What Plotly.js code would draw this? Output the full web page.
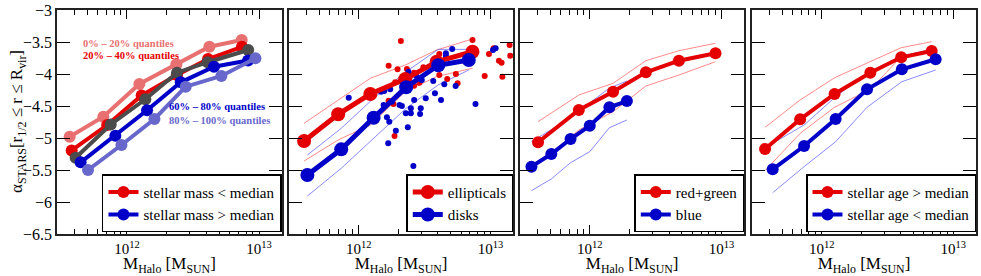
<!DOCTYPE html>
<html><head><meta charset="utf-8">
<script src="https://cdn.plot.ly/plotly-3.0.1.min.js"></script>
<style>html,body{margin:0;padding:0;background:#fff}#chart{width:981px;height:276px}</style>
</head><body><div id="chart"></div>
<script>
// ---------- DATA (x values are log10 of halo mass in M_sun) ----------
// Panel 1: stellar-mass quantiles
const p1_q0_logM  = [11.566, 11.821, 12.094, 12.374, 12.624, 12.869];
const p1_q0_alpha = [-4.98, -4.667, -4.156, -3.848, -3.573, -3.469];
const p1_q1_logM  = [11.581, 11.850, 12.111, 12.379, 12.614, 12.871];
const p1_q1_alpha = [-5.195, -4.797, -4.336, -4.016, -3.766, -3.575];
const p1_q2_logM  = [11.611, 11.877, 12.139, 12.379, 12.611, 12.918];
const p1_q2_alpha = [-5.308, -4.789, -4.395, -3.98, -3.816, -3.625];
const p1_q3_logM  = [11.649, 11.912, 12.152, 12.407, 12.659, 12.917];
const p1_q3_alpha = [-5.38, -4.964, -4.567, -4.13, -3.886, -3.79];
const p1_q4_logM  = [11.705, 11.958, 12.208, 12.445, 12.715, 12.973];
const p1_q4_alpha = [-5.5, -5.109, -4.703, -4.198, -4.031, -3.755];

// Panel 2: ellipticals vs disks
const p2_ell_logM   = [11.585, 11.844, 12.088, 12.353, 12.592, 12.864];
const p2_ell_alpha  = [-5.047, -4.63, -4.3125, -4.08, -3.808, -3.652];
const p2_ell_hi     = [-4.77, -4.406, -4.067, -3.86, -3.625, -3.453];
const p2_ell_lo     = [-5.36, -5.03, -4.797, -4.277, -4.04, -3.91];
const p2_disk_logM  = [11.610, 11.867, 12.113, 12.360, 12.604, 12.836];
const p2_disk_alpha = [-5.578, -5.177, -4.683, -4.208, -3.864, -3.781];
const p2_disk_hi    = [-5.266, -4.849, -4.38, -3.964, -3.615, -3.615];
const p2_disk_lo    = [-5.906, -5.474, -5.005, -4.536, -4.17, -3.9375];
const p2_ell_dots_logM  = [12.320, 12.227, 12.295, 12.366, 12.340, 12.353, 12.277, 12.421, 12.461, 12.491, 12.421, 12.612, 12.612, 12.672, 12.738, 12.751, 12.864, 12.957, 12.989, 13.025, 13.065, 13.085, 13.091, 13.146, 13.151, 12.227, 12.264, 12.272];
const p2_ell_dots_alpha = [-3.484, -3.870, -3.927, -3.922, -4.042, -4.120, -4.130, -3.980, -4.136, -3.895, -4.183, -3.6875, -4.016, -4.078, -4.0, -4.145, -3.469, -4.031, -3.6875, -3.598, -3.792, -3.823, -4.042, -3.547, -3.714, -4.417, -4.469, -4.969];
const p2_disk_dots_logM  = [11.924, 12.169, 12.194, 12.239, 12.189, 12.252, 12.310, 12.328, 12.214, 12.232, 12.282, 12.224, 12.358, 12.396, 12.396, 12.373, 12.421, 12.471, 12.466, 12.509, 12.579, 12.625, 12.650, 12.566, 12.736, 12.378, 12.385, 12.436, 12.479, 12.662, 12.662, 12.710, 12.887, 13.020, 13.040, 12.415];
const p2_disk_dots_alpha = [-4.370, -4.277, -4.266, -4.239, -4.484, -4.433, -4.484, -4.5, -4.677, -4.745, -4.886, -5.083, -4.614, -4.536, -4.614, -4.833, -4.406, -4.536, -4.625, -4.380, -4.302, -4.406, -4.161, -4.109, -4.1875, -3.964, -4.058, -4.027, -4.094, -3.677, -3.719, -3.609, -4.469, -3.625, -3.598, -5.4375];

// Panel 3: red+green vs blue
const p3_rg_logM    = [11.607, 11.917, 12.177, 12.426, 12.677, 12.955];
const p3_rg_alpha   = [-5.067, -4.5625, -4.277, -3.973, -3.792, -3.677];
const p3_rg_hi      = [-4.745, -4.328, -4.146, -3.792, -3.636, -3.52];
const p3_rg_lo      = [-5.395, -4.875, -4.589, -4.1875, -4.016, -3.808];
const p3_blue_logM  = [11.557, 11.708, 11.854, 12.0, 12.149, 12.282];
const p3_blue_alpha = [-5.448, -5.25, -5.016, -4.808, -4.52, -4.422];
const p3_blue_hi    = [-5.057, -4.875, -4.6875, -4.453, -4.22, -4.11];
const p3_blue_lo    = [-5.823, -5.64, -5.386, -5.214, -4.839, -4.719];

// Panel 4: stellar age
const p4_old_logM     = [11.569, 11.836, 12.098, 12.370, 12.605, 12.837];
const p4_old_alpha    = [-5.172, -4.708, -4.3125, -3.98, -3.739, -3.64];
const p4_old_hi       = [-4.833, -4.406, -4.058, -3.808, -3.589, -3.495];
const p4_old_lo       = [-5.51, -4.927, -4.52, -4.239, -3.73, -3.614];
const p4_young_logM   = [11.627, 11.866, 12.106, 12.345, 12.610, 12.867];
const p4_young_alpha  = [-5.489, -5.125, -4.703, -4.239, -3.927, -3.77];
const p4_young_hi     = [-5.083, -4.797, -4.355, -3.98, -3.72, -3.6];
const p4_young_lo     = [-5.855, -5.448, -5.058, -4.52, -4.12, -3.9375];

const xTickVals = [1e12, 1e13];
const xTickText = ['10<sup>12</sup>', '10<sup>13</sup>'];
const xMinorVals = [4e11,5e11,6e11,7e11,8e11,9e11,2e12,3e12,4e12,5e12,6e12,7e12,8e12,9e12];
const quantileLabels = ['0% – 20% quantiles','20% – 40% quantiles','60% – 80% quantiles','80% – 100% quantiles'];

// ---------- STYLE ----------
const FONT = 'Liberation Serif, Times New Roman, serif';
const RED = 'rgb(228,0,0)', BLUE = 'rgb(0,0,200)', GRAY = 'rgb(75,75,75)';
const LRED = 'rgb(232,112,112)', LBLUE = 'rgb(104,104,204)';
const TRED = 'rgba(255,60,60,0.6)', TBLUE = 'rgba(60,60,255,0.6)';
const M = v => v.map(x => Math.pow(10, x));

function thick(lx, y, color, xa, ya, name, leg, size, lw) {
  return {x: M(lx), y: y, xaxis: xa, yaxis: ya, type: 'scatter', mode: 'lines+markers',
    line: {color: color, width: lw || 4}, marker: {color: color, size: size || 12},
    name: name || '', showlegend: !!name, legend: leg, hoverinfo: 'skip'};
}
function thin(lx, y, color, xa, ya) {
  return {x: M(lx), y: y, xaxis: xa, yaxis: ya, type: 'scatter', mode: 'lines',
    line: {color: color, width: 1}, showlegend: false, hoverinfo: 'skip'};
}
function dots(lx, y, color, xa, ya) {
  return {x: M(lx), y: y, xaxis: xa, yaxis: ya, type: 'scatter', mode: 'markers',
    marker: {color: color, size: 6}, showlegend: false, hoverinfo: 'skip'};
}

const traces = [
  thick(p1_q0_logM, p1_q0_alpha, LRED, 'x', 'y'),
  thick(p1_q1_logM, p1_q1_alpha, RED, 'x', 'y', 'stellar mass < median', 'legend'),
  thick(p1_q2_logM, p1_q2_alpha, GRAY, 'x', 'y'),
  thick(p1_q3_logM, p1_q3_alpha, BLUE, 'x', 'y', 'stellar mass > median', 'legend'),
  thick(p1_q4_logM, p1_q4_alpha, LBLUE, 'x', 'y'),

  thin(p2_ell_logM, p2_ell_hi, TRED, 'x2', 'y2'),
  thin(p2_ell_logM, p2_ell_lo, TRED, 'x2', 'y2'),
  thin(p2_disk_logM, p2_disk_hi, TBLUE, 'x2', 'y2'),
  thin(p2_disk_logM, p2_disk_lo, TBLUE, 'x2', 'y2'),
  dots(p2_ell_dots_logM, p2_ell_dots_alpha, RED, 'x2', 'y2'),
  dots(p2_disk_dots_logM, p2_disk_dots_alpha, BLUE, 'x2', 'y2'),
  thick(p2_ell_logM, p2_ell_alpha, RED, 'x2', 'y2', 'ellipticals', 'legend2', 14, 5),
  thick(p2_disk_logM, p2_disk_alpha, BLUE, 'x2', 'y2', 'disks', 'legend2', 14, 5),

  thin(p3_rg_logM, p3_rg_hi, TRED, 'x3', 'y3'),
  thin(p3_rg_logM, p3_rg_lo, TRED, 'x3', 'y3'),
  thin(p3_blue_logM, p3_blue_hi, TBLUE, 'x3', 'y3'),
  thin(p3_blue_logM, p3_blue_lo, TBLUE, 'x3', 'y3'),
  thick(p3_rg_logM, p3_rg_alpha, RED, 'x3', 'y3', 'red+green', 'legend3'),
  thick(p3_blue_logM, p3_blue_alpha, BLUE, 'x3', 'y3', 'blue', 'legend3'),

  thin(p4_old_logM, p4_old_hi, TRED, 'x4', 'y4'),
  thin(p4_old_logM, p4_old_lo, TRED, 'x4', 'y4'),
  thin(p4_young_logM, p4_young_hi, TBLUE, 'x4', 'y4'),
  thin(p4_young_logM, p4_young_lo, TBLUE, 'x4', 'y4'),
  thick(p4_old_logM, p4_old_alpha, RED, 'x4', 'y4', 'stellar age > median', 'legend4'),
  thick(p4_young_logM, p4_young_alpha, BLUE, 'x4', 'y4', 'stellar age < median', 'legend4')
];

const domains = [[0, 0.2448], [0.2524, 0.4965], [0.5038, 0.7479], [0.7563, 1]];

function xax(i) {
  return {type: 'log', domain: domains[i], anchor: i ? 'y' + (i + 1) : 'y',
    range: [11.47, 13.174], tickmode: 'array', tickvals: xTickVals, ticktext: xTickText,
    ticks: 'inside', ticklen: 9, tickwidth: 1, tickcolor: '#000',
    showline: true, linecolor: '#222', linewidth: 1.8, mirror: 'ticks',
    showgrid: false, zeroline: false,
    tickfont: {family: FONT, size: 15, color: '#000'},
    minor: {tickmode: 'array', tickvals: xMinorVals, ticks: 'inside', ticklen: 5, tickwidth: 1, tickcolor: '#000', showgrid: false},
    title: {text: 'M<sub>Halo</sub> [M<sub>SUN</sub>]', font: {family: FONT, size: 17, color: '#000'}, standoff: 0}};
}
function yax(i) {
  return {domain: [0, 1], anchor: i ? 'x' + (i + 1) : 'x', range: [-6.5, -3],
    tickmode: 'linear', tick0: -3, dtick: 0.5, ticks: 'inside', ticklen: 13, tickwidth: 1, tickcolor: '#000',
    showline: true, linecolor: '#222', linewidth: 1.8, mirror: 'ticks',
    showgrid: false, zeroline: false, showticklabels: i === 0,
    tickfont: {family: FONT, size: 16, color: '#000'}};
}
function leg(i) {
  return {x: domains[i][1], xanchor: 'right', y: 0.008, yanchor: 'bottom',
    bordercolor: '#000', borderwidth: 1.5, bgcolor: '#fff',
    font: {family: FONT, size: 15, color: '#000'}, tracegroupgap: 0, itemwidth: 30};
}

function qAnn(text, color, xv, yv) {
  return {text: '<b>' + text + '</b>', x: Math.log10(xv), y: yv, xref: 'x', yref: 'y',
    xanchor: 'left', yanchor: 'middle', showarrow: false,
    font: {family: FONT, size: 10.5, color: color}};
}

const layout = {
  width: 981, height: 276, margin: {l: 57, r: 5, t: 10, b: 42},
  paper_bgcolor: '#fff', plot_bgcolor: '#fff', showlegend: true,
  xaxis: xax(0), xaxis2: xax(1), xaxis3: xax(2), xaxis4: xax(3),
  yaxis: yax(0), yaxis2: yax(1), yaxis3: yax(2), yaxis4: yax(3),
  legend: leg(0), legend2: leg(1), legend3: leg(2), legend4: leg(3),
  annotations: [
    qAnn(quantileLabels[0], LRED, 4.5e11, -3.52),
    qAnn(quantileLabels[1], RED, 4.5e11, -3.705),
    qAnn(quantileLabels[2], BLUE, 2.0e12, -4.515),
    qAnn(quantileLabels[3], LBLUE, 2.0e12, -4.72),
    {text: 'α<sub>STARS</sub>[r<sub>1/2</sub> ≤ r ≤ R<sub>vir</sub>]', textangle: -90,
     xref: 'paper', yref: 'paper', x: -0.0424, y: 0.5, xanchor: 'center', yanchor: 'middle',
     showarrow: false, font: {family: FONT, size: 17, color: '#000'}}
  ]
};

Plotly.newPlot('chart', traces, layout, {staticPlot: true, displayModeBar: false});
</script></body></html>
